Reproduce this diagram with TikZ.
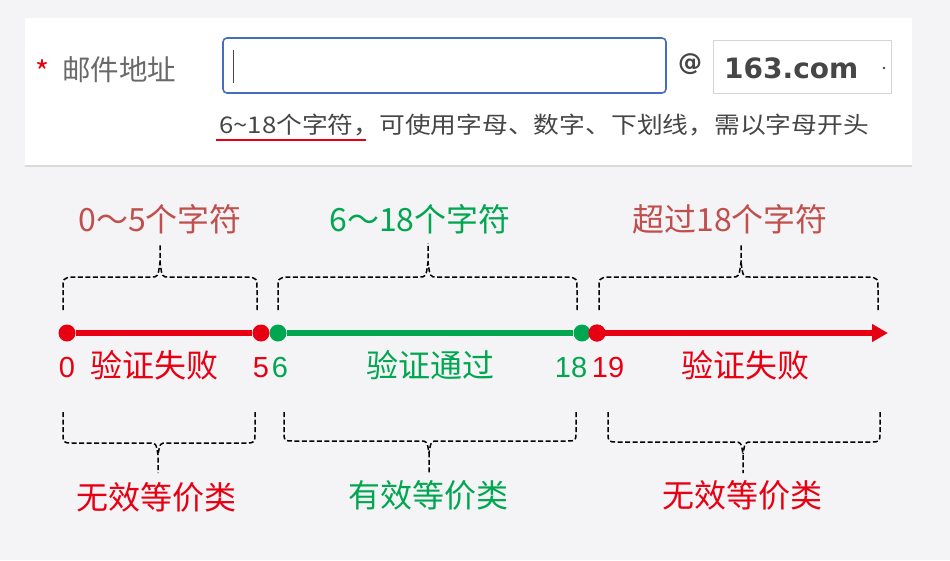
\documentclass[tikz,border=0pt]{standalone}
\usepackage{fontspec}
\setmainfont{Noto Sans CJK SC}
\newfontfamily\uifont{DejaVu Sans}
\newfontfamily\numfont{Liberation Sans}
\usetikzlibrary{shadows,arrows.meta}
\definecolor{bg}{RGB}{244,244,246}
\definecolor{vred}{RGB}{232,0,18}
\definecolor{vgreen}{RGB}{0,166,80}
\definecolor{brn}{RGB}{192,80,77}
\definecolor{ublue}{RGB}{70,110,190}
\definecolor{ugray}{RGB}{105,105,105}
\definecolor{dgray}{RGB}{70,70,70}
\definecolor{lgray}{RGB}{212,212,212}
\tikzset{
  dotbase/.style={circle,inner sep=0pt,minimum size=17pt},
  rdot/.style={dotbase,fill=vred},
  gdot/.style={dotbase,fill=vgreen},
  rline/.style={draw=vred,line width=6.5pt},
  gline/.style={draw=vgreen,line width=6.5pt},
  bigtxt/.style={inner sep=0pt,font={\fontsize{32}{38}\selectfont}},
  numtxt/.style={inner sep=0pt,font={\numfont\fontsize{29}{34}\selectfont}},
  bracestyle/.style={draw=black,line width=1.5pt,dash pattern=on 5pt off 2.5pt},
}
\newcommand\topbrace[3]{%
  \draw[bracestyle] (#1,310) -- (#1,290) .. controls (#1,278) .. ({#1+10},277)
    -- ({#3-9},277) .. controls ({#3-2},277) .. (#3,262) -- (#3,243);
  \draw[bracestyle] (#2,310) -- (#2,290) .. controls (#2,278) .. ({#2-10},277)
    -- ({#3+9},277) .. controls ({#3+2},277) .. (#3,262);}
\newcommand\botbrace[4]{%
  \draw[bracestyle] (#1,412) -- (#1,432) .. controls (#1,#4) .. ({#1+10},#4)
    -- ({#3-9},#4) .. controls ({#3-2},#4) .. (#3,{#4+12}) -- (#3,473);
  \draw[bracestyle] (#2,412) -- (#2,432) .. controls (#2,#4) .. ({#2-10},#4)
    -- ({#3+9},#4) .. controls ({#3+2},#4) .. (#3,{#4+12});}
\begin{document}
\begin{tikzpicture}[x=1pt,y=-1pt]
\useasboundingbox (0,0) rectangle (950,560);
\fill[bg] (0,0) rectangle (950,560);
% form panel
\node[fill=white,draw=none,minimum width=887pt,minimum height=147pt,inner sep=0pt,
  drop shadow={opacity=0.22,shadow xshift=0pt,shadow yshift=-2pt}] (panel) at (468.5,91.5) {};
\node[inner sep=0pt,text=vred,font={\fontsize{30}{34}\selectfont}] (star) at (43,72) {*};
\node[inner sep=0pt,text=ugray,font={\fontsize{28.5}{32}\selectfont},anchor=west] (lbl) at (62,70) {邮件地址};
\node[draw=ublue,line width=1.6pt,rounded corners=4pt,fill=white,minimum width=443pt,minimum height=55pt,inner sep=0pt] (input) at (444.5,65.5) {};
\draw[dgray,line width=1pt] (233,50) -- (233,83);
\node[inner sep=0pt,text=dgray,font={\uifont\bfseries\fontsize{24}{28}\selectfont}] (at) at (690,64) {@};
\node[draw=lgray,line width=1pt,fill=white,minimum width=178pt,minimum height=53pt,inner sep=0pt] (sel) at (802,66.5) {};
\node[inner sep=0pt,text=dgray,font={\uifont\bfseries\fontsize{28}{32}\selectfont},anchor=west] (dom) at (724,68) {163.com};
\fill[dgray] (884,68) circle (1.3pt);
\node[inner sep=0pt,text=dgray,font={\fontsize{23}{28}\selectfont},anchor=west] (hint) at (219,125) {\scalebox{1.12}[1]{6\textasciitilde18个字符，可使用字母、数字、下划线，需以字母开头}};
\draw[vred,line width=2pt] (216,140) -- (366,140);
% timeline
\node[rdot] (d0) at (67,333) {};
\node[rdot] (d5) at (261,333) {};
\node[gdot] (d6) at (278,333) {};
\node[gdot] (d18) at (582,333) {};
\node[rdot] (d19) at (597,333) {};
\coordinate (tend) at (888,333);
\draw[rline] (d0) -- (d5);
\draw[gline] (d6) -- (d18);
\draw[rline,-{Triangle[length=16pt,width=17pt]}] (d19.center) -- (tend);
\node[rdot] at (d19) {};
% labels on the line
\node[numtxt,text=vred] (n0) at (67,368) {0};
\node[bigtxt,text=vred] (f1) at (154,365) {验证失败};
\node[numtxt,text=vred] (n5) at (261,368) {5};
\node[numtxt,text=vgreen] (n6) at (280,368) {6};
\node[bigtxt,text=vgreen] (p) at (430,365) {验证通过};
\node[numtxt,text=vgreen] (n18) at (571,368) {18};
\node[numtxt,text=vred] (n19) at (608,368) {19};
\node[bigtxt,text=vred] (f2) at (745,365) {验证失败};
% top braces
\topbrace{63}{257}{160}
\topbrace{278}{577}{428}
\topbrace{599}{878}{741}
\node[bigtxt,text=brn] (t1) at (160,219) {0～5个字符};
\node[bigtxt,text=vgreen] (t2) at (420,219) {6～18个字符};
\node[bigtxt,text=brn] (t3) at (730,219) {超过18个字符};
% bottom braces
\botbrace{63}{255}{158}{443}
\botbrace{284}{576}{429}{441}
\botbrace{608}{880}{743}{442}
\node[bigtxt,text=vred] (b1) at (156,497) {无效等价类};
\node[bigtxt,text=vgreen] (b2) at (428,495) {有效等价类};
\node[bigtxt,text=vred] (b3) at (742,495) {无效等价类};
\end{tikzpicture}
\end{document}
